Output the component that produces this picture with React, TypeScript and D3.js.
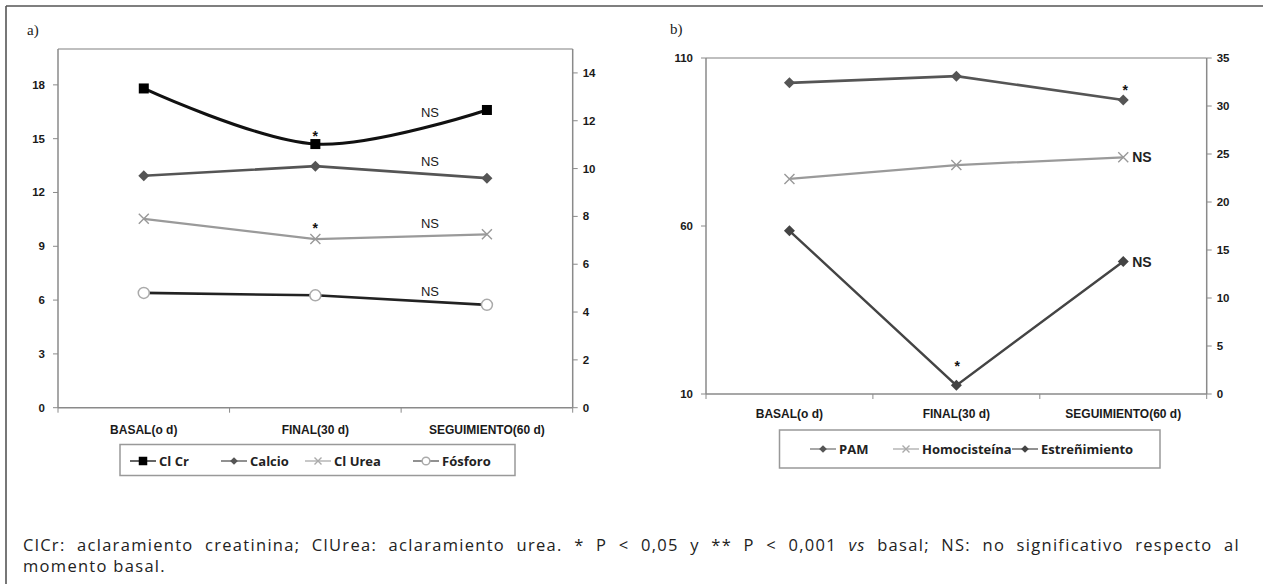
import React, { useLayoutEffect, useRef, useState } from "react";
import * as d3 from "d3";

// ---------- DATA ----------
const categories = ["BASAL(o d)", "FINAL(30 d)", "SEGUIMIENTO(60 d)"];

// Panel a
const clCr = [17.8, 14.7, 16.6]; // left axis
const calcio = [9.7, 10.1, 9.6]; // right axis
const clUrea = [7.9, 7.05, 7.25]; // right axis
const fosforo = [4.8, 4.7, 4.3]; // right axis
const leftTicksA = [0, 3, 6, 9, 12, 15, 18];
const rightTicksA = [0, 2, 4, 6, 8, 10, 12, 14];
const legendA = ["Cl Cr", "Calcio", "Cl Urea", "Fósforo"];

// Panel b
const pam = [102.6, 104.6, 97.5]; // left axis
const homocisteina = [22.4, 23.85, 24.65]; // right axis
const estrenimiento = [17.0, 0.9, 13.8]; // right axis
const leftTicksB = [10, 60, 110];
const rightTicksB = [0, 5, 10, 15, 20, 25, 30, 35];
const legendB = ["PAM", "Homocisteína", "Estreñimiento"];

const captionLine1a = "ClCr: aclaramiento creatinina; ClUrea: aclaramiento urea. * P < 0,05 y ** P < 0,001 ";
const captionVs = "vs";
const captionLine1b = " basal; NS: no significativo respecto al";
const captionLine2 = "momento basal.";

// ---------- HELPERS ----------
const AX = "Liberation Sans, Arial, sans-serif";
const LEG = "Open Sans, DejaVu Sans, sans-serif";
const CAP = "Open Sans, sans-serif";

type MarkerKind = "square" | "diamond" | "x" | "circle";

function Marker({ kind, x, y, s = 1, color }: { kind: MarkerKind; x: number; y: number; s?: number; color: string }) {
  if (kind === "square") {
    const h = 5 * s;
    return <rect x={x - h} y={y - h} width={2 * h} height={2 * h} fill={color} />;
  }
  if (kind === "diamond") {
    const h = 5.5 * s;
    return <path d={`M${x},${y - h}L${x + h},${y}L${x},${y + h}L${x - h},${y}Z`} fill={color} />;
  }
  if (kind === "x") {
    const h = 5 * s;
    return (
      <path d={`M${x - h},${y - h}L${x + h},${y + h}M${x - h},${y + h}L${x + h},${y - h}`} stroke={color} strokeWidth={1.4} fill="none" />
    );
  }
  return <circle cx={x} cy={y} r={5.5 * s} fill="white" stroke={color} strokeWidth={1.5} />;
}

export default function App() {
  const capRef = useRef<SVGTextElement>(null);
  const [wordSpacing, setWordSpacing] = useState(-1);
  const capWidth = 1217;
  useLayoutEffect(() => {
    const el = capRef.current;
    if (!el || wordSpacing >= 0) return;
    const len = el.getComputedTextLength();
    const full = captionLine1a + captionVs + captionLine1b;
    const spaces = (full.match(/ /g) || []).length;
    if (len > 0 && spaces > 0) {
      setWordSpacing(Math.max(0, (capWidth - len) / spaces));
    }
  }, [wordSpacing]);

  // Panel a scales
  const xA = d3.scaleBand().domain(categories).range([58, 572.7]).padding(0);
  const yLA = d3.scaleLinear().domain([0, 20]).range([407.7, 49]);
  const yRA = d3.scaleLinear().domain([0, 15]).range([407.7, 49]);
  const cxA = (i: number) => (xA(categories[i]) as number) + xA.bandwidth() / 2;

  // Panel b scales
  const xB = d3.scaleBand().domain(categories).range([706, 1206.7]).padding(0);
  const yLB = d3.scaleLinear().domain([10, 110]).range([394, 58]);
  const yRB = d3.scaleLinear().domain([0, 35]).range([394, 58]);
  const cxB = (i: number) => (xB(categories[i]) as number) + xB.bandwidth() / 2;

  const smooth = d3.line<number>().x((_, i) => cxA(i)).y((d) => yLA(d)).curve(d3.curveCatmullRom.alpha(0.5));
  const lineA = (yS: d3.ScaleLinear<number, number>) => d3.line<number>().x((_, i) => cxA(i)).y((d) => yS(d));
  const lineB = (yS: d3.ScaleLinear<number, number>) => d3.line<number>().x((_, i) => cxB(i)).y((d) => yS(d));

  const seriesA = [
    { data: clCr, path: smooth(clCr), y: yLA, color: "#111", width: 3, marker: "square" as MarkerKind, mcolor: "#000" },
    { data: calcio, path: lineA(yRA)(calcio), y: yRA, color: "#555", width: 2.6, marker: "diamond" as MarkerKind, mcolor: "#555" },
    { data: clUrea, path: lineA(yRA)(clUrea), y: yRA, color: "#9a9a9a", width: 2.2, marker: "x" as MarkerKind, mcolor: "#999" },
    { data: fosforo, path: lineA(yRA)(fosforo), y: yRA, color: "#222", width: 2.6, marker: "circle" as MarkerKind, mcolor: "#aaa" },
  ];
  const seriesB = [
    { data: pam, path: lineB(yLB)(pam), y: yLB, color: "#555", width: 2.6, marker: "diamond" as MarkerKind, mcolor: "#555" },
    { data: homocisteina, path: lineB(yRB)(homocisteina), y: yRB, color: "#9a9a9a", width: 2.2, marker: "x" as MarkerKind, mcolor: "#999" },
    { data: estrenimiento, path: lineB(yRB)(estrenimiento), y: yRB, color: "#444", width: 2.4, marker: "diamond" as MarkerKind, mcolor: "#444" },
  ];

  const axisColor = "#8a8a8a";
  const tickFont = { fontFamily: AX, fontWeight: 700, fontSize: 11.5, fill: "#1a1a1a" } as const;
  const catFont = { fontFamily: AX, fontWeight: 700, fontSize: 12, fill: "#1a1a1a" } as const;

  const renderPanel = (
    x: d3.ScaleBand<string>,
    yL: d3.ScaleLinear<number, number>,
    yR: d3.ScaleLinear<number, number>,
    leftTicks: number[],
    rightTicks: number[],
    catY: number
  ) => {
    const [x0, x1] = x.range();
    const [yb, yt] = yL.range();
    const bounds = [x0, ...categories.map((c) => (x(c) as number) + x.bandwidth())];
    return (
      <g>
        <line x1={x0} x2={x1} y1={yt} y2={yt} stroke="#aaa" strokeWidth={1.5} />
        <line x1={x0} x2={x0} y1={yt} y2={yb} stroke={axisColor} strokeWidth={1.5} />
        <line x1={x1} x2={x1} y1={yt} y2={yb} stroke={axisColor} strokeWidth={1.5} />
        <line x1={x0} x2={x1} y1={yb} y2={yb} stroke={axisColor} strokeWidth={1.5} />
        {leftTicks.map((t) => (
          <g key={"l" + t}>
            <line x1={x0 - 5} x2={x0} y1={yL(t)} y2={yL(t)} stroke={axisColor} />
            <text x={x0 - 13} y={yL(t) + 4} textAnchor="end" {...tickFont}>{t}</text>
          </g>
        ))}
        {rightTicks.map((t) => (
          <g key={"r" + t}>
            <line x1={x1} x2={x1 + 5} y1={yR(t)} y2={yR(t)} stroke={axisColor} />
            <text x={x1 + 10} y={yR(t) + 4} textAnchor="start" {...tickFont}>{t}</text>
          </g>
        ))}
        {bounds.map((b, i) => (
          <line key={"b" + i} x1={b} x2={b} y1={yb} y2={yb + 5} stroke={axisColor} />
        ))}
        {categories.map((c) => (
          <text key={c} x={(x(c) as number) + x.bandwidth() / 2} y={catY} textAnchor="middle" {...catFont}>{c}</text>
        ))}
      </g>
    );
  };

  const legendItem = (kind: MarkerKind, lineColor: string, mcolor: string, label: string, lx: number, ly: number, key: string) => (
    <g key={key}>
      <line x1={lx - 13} x2={lx + 13} y1={ly} y2={ly} stroke={lineColor} strokeWidth={1.3} />
      <Marker kind={kind} x={lx} y={ly} s={kind === "square" ? 0.85 : 0.7} color={mcolor} />
      <text x={lx + 16} y={ly + 4.5} fontFamily={LEG} fontWeight={700} fontSize={13} fill="#222">{label}</text>
    </g>
  );

  const starStyle = { fontFamily: AX, fontWeight: 700, fontSize: 14, fill: "#111", textAnchor: "middle" as const };
  const nsStyle = { fontFamily: AX, fontSize: 13, fill: "#1a1a1a" };

  return (
    <svg width={1263} height={584} style={{ position: "absolute", left: 0, top: 0, background: "white" }}>
      <rect x={0} y={0} width={1263} height={584} fill="white" />
      {/* outer frame */}
      <line x1={6} x2={1263} y1={6} y2={6} stroke="#555" strokeWidth={1.6} />
      <line x1={6} x2={6} y1={6} y2={584} stroke="#555" strokeWidth={1.6} />

      {/* panel labels */}
      <text x={27} y={35} fontFamily="Liberation Serif, serif" fontSize={15} fill="#222">a)</text>
      <text x={670} y={34} fontFamily="Liberation Serif, serif" fontSize={15} fill="#222">b)</text>

      {renderPanel(xA, yLA, yRA, leftTicksA, rightTicksA, 434)}
      {renderPanel(xB, yLB, yRB, leftTicksB, rightTicksB, 418)}

      {/* panel a series */}
      {seriesA.map((s, si) => (
        <g key={"sa" + si}>
          <path d={s.path as string} fill="none" stroke={s.color} strokeWidth={s.width} />
          {s.data.map((v, i) => (
            <Marker key={i} kind={s.marker} x={cxA(i)} y={s.y(v)} color={s.mcolor} />
          ))}
        </g>
      ))}
      {/* panel a annotations */}
      <text x={cxA(1)} y={yLA(clCr[1]) - 3} {...starStyle}>*</text>
      <text x={cxA(1)} y={yRA(clUrea[1]) - 6} {...starStyle}>*</text>
      <text x={430} y={117} textAnchor="middle" {...nsStyle}>NS</text>
      <text x={430} y={166} textAnchor="middle" {...nsStyle}>NS</text>
      <text x={430} y={228} textAnchor="middle" {...nsStyle}>NS</text>
      <text x={430} y={296} textAnchor="middle" {...nsStyle}>NS</text>

      {/* panel b series */}
      {seriesB.map((s, si) => (
        <g key={"sb" + si}>
          <path d={s.path as string} fill="none" stroke={s.color} strokeWidth={s.width} />
          {s.data.map((v, i) => (
            <Marker key={i} kind={s.marker} x={cxB(i)} y={s.y(v)} color={s.mcolor} />
          ))}
        </g>
      ))}
      <text x={cxB(2) + 2} y={yLB(pam[2]) - 5} {...starStyle}>*</text>
      <text x={cxB(1) + 1} y={yRB(estrenimiento[1]) - 14} {...starStyle}>*</text>
      <text x={cxB(2) + 9} y={yRB(homocisteina[2]) + 5} fontFamily={AX} fontWeight={700} fontSize={14} fill="#222">NS</text>
      <text x={cxB(2) + 9} y={yRB(estrenimiento[2]) + 5} fontFamily={AX} fontWeight={700} fontSize={14} fill="#222">NS</text>

      {/* legend a */}
      <rect x={120} y={444.5} width={395} height={31} fill="white" stroke="#999" strokeWidth={1.5} />
      {legendItem("square", "#111", "#000", legendA[0], 143, 461, "la0")}
      {legendItem("diamond", "#555", "#555", legendA[1], 234, 461, "la1")}
      {legendItem("x", "#aaa", "#aaa", legendA[2], 318, 461, "la2")}
      {legendItem("circle", "#555", "#aaa", legendA[3], 426, 461, "la3")}

      {/* legend b */}
      <rect x={779.5} y={430} width={380.5} height={38} fill="white" stroke="#999" strokeWidth={1.5} />
      {legendItem("diamond", "#777", "#555", legendB[0], 823, 449, "lb0")}
      {legendItem("x", "#aaa", "#aaa", legendB[1], 906, 449, "lb1")}
      {legendItem("diamond", "#555", "#444", legendB[2], 1025, 449, "lb2")}

      {/* caption */}
      <text
        ref={capRef}
        x={23}
        y={551}
        fontFamily={CAP}
        fontSize={16.5}
        fill="#222"
        style={{ wordSpacing: Math.max(0, wordSpacing) + "px", letterSpacing: "1.3px" }}
      >
        {captionLine1a}
        <tspan fontStyle="italic">{captionVs}</tspan>
        {captionLine1b}
      </text>
      <text x={23} y={572} fontFamily={CAP} fontSize={16.5} fill="#222" style={{ letterSpacing: "1.3px" }}>{captionLine2}</text>
    </svg>
  );
}
